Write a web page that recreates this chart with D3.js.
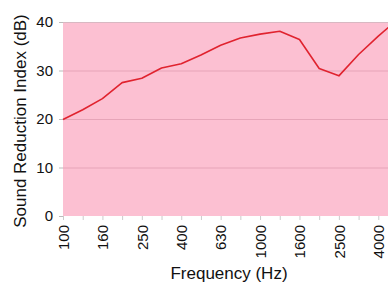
<!DOCTYPE html>
<html>
<head>
<meta charset="utf-8">
<script src="https://cdn.jsdelivr.net/npm/d3@7"></script>
<style>
  body { margin: 0; background: #fff; }
  text { font-family: "Liberation Sans", Arial, sans-serif; fill: #111; }
</style>
</head>
<body>
<div id="chart"></div>
<script>
// data, third-octave bands
var bands = ["100","125","160","200","250","315","400","500","630","800","1000","1250","1600","2000","2500","3150","4000","5000"];
var sri = [19.9, 21.9, 24.2, 27.5, 28.4, 30.5, 31.4, 33.2, 35.2, 36.7, 37.5, 38.1, 36.4, 30.4, 28.9, 33.3, 37.1, 40.6];
var yTicks = [0, 10, 20, 30, 40];
var labelBands = ["100","160","250","400","630","1000","1600","2500","4000"];

var W = 388, H = 284;
var m = {top: 22, left: 63, bottom: 68};
var plotBottom = H - m.bottom;

var svg = d3.select("#chart").append("svg")
    .attr("width", W)
    .attr("height", H);

var x = d3.scalePoint()
    .domain(bands)
    .range([m.left, 398]);

var y = d3.scaleLinear()
    .domain([0, 40])
    .range([plotBottom, m.top]);

// background
svg.append("rect")
    .attr("x", m.left)
    .attr("y", m.top)
    .attr("width", 420 - m.left)
    .attr("height", plotBottom - m.top)
    .attr("fill", "#fcc0d2");

// grid
svg.selectAll(".grid")
    .data(yTicks.slice(1))
    .enter().append("line")
    .attr("class", "grid")
    .attr("x1", m.left)
    .attr("x2", 420)
    .attr("y1", function(d) { return y(d) + 0.5; })
    .attr("y2", function(d) { return y(d) + 0.5; })
    .attr("stroke", function(d) { return d == 40 ? "#d8b8c2" : "#e6a4b8"; })
    .attr("stroke-width", 1);

// y axis
var yAxis = svg.append("g")
    .attr("transform", "translate(" + m.left + ",0)")
    .call(d3.axisLeft(y).tickValues(yTicks).tickSize(4).tickPadding(6));
yAxis.select(".domain").remove();
yAxis.selectAll("line").attr("stroke", "#bbb");
yAxis.selectAll("text")
    .style("font-size", "15px")
    .attr("fill", "#111");

// x axis
var xAxis = svg.append("g")
    .attr("transform", "translate(0," + plotBottom + ")")
    .call(d3.axisBottom(x).tickSize(4).tickFormat(function(d) {
      return labelBands.indexOf(d) >= 0 ? d : "";
    }));
xAxis.select(".domain").remove();
xAxis.selectAll("line").attr("stroke", "#ccc");
xAxis.selectAll("text")
    .style("font-size", "15px")
    .attr("fill", "#111")
    .attr("transform", "rotate(-90)")
    .attr("text-anchor", "end")
    .attr("x", -9)
    .attr("y", 0)
    .attr("dy", "0.35em");

// line
var line = d3.line()
    .x(function(d, i) { return x(bands[i]); })
    .y(function(d) { return y(d); });

svg.append("path")
    .datum(sri)
    .attr("d", line)
    .attr("fill", "none")
    .attr("stroke", "#e0232f")
    .attr("stroke-width", 1.6)
    .attr("stroke-linejoin", "round");

// titles
svg.append("text")
    .attr("x", 229)
    .attr("y", 279)
    .attr("text-anchor", "middle")
    .style("font-size", "17px")
    .text("Frequency (Hz)");

svg.append("text")
    .attr("transform", "translate(26,121) rotate(-90)")
    .attr("text-anchor", "middle")
    .style("font-size", "17px")
    .text("Sound Reduction Index (dB)");
</script>
</body>
</html>
